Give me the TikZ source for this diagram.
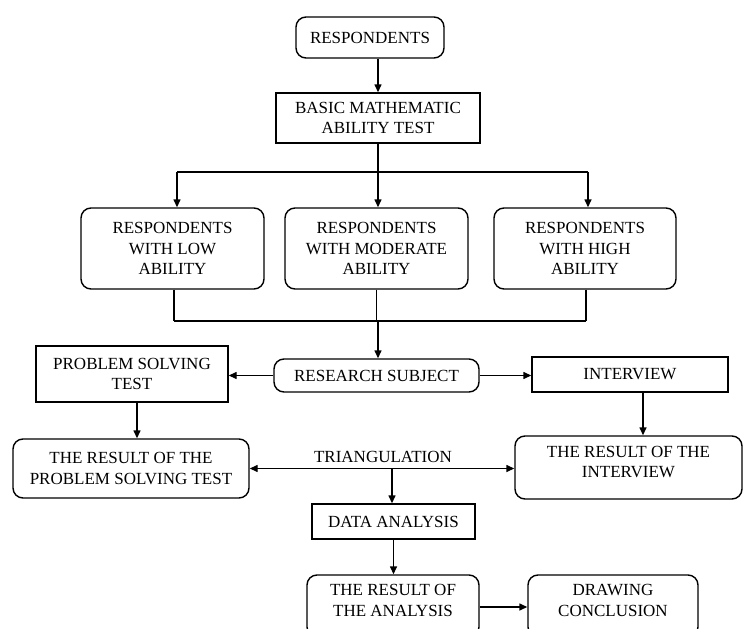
\documentclass[tikz,border=0pt]{standalone}
\usepackage{fontspec}
\setmainfont{Liberation Serif}
\usetikzlibrary{arrows.meta}
\newcommand{\lowstrut}{\rule[-11pt]{0pt}{1pt}}
\tikzset{
  every node/.style={font=\fontsize{17}{20.5}\selectfont, align=center, inner sep=0pt},
  sqbox/.style={draw, line width=1.4pt, rectangle},
  rbox/.style={draw, line width=1.4pt, rectangle, rounded corners=10pt},
  conn/.style={line width=1.4pt},
  arr/.style={conn, -{Triangle[length=8pt,width=7pt]}},
  darr/.style={conn, {Triangle[length=8pt,width=7pt]}-{Triangle[length=8pt,width=7pt]}}
}
\begin{document}
\begin{tikzpicture}[x=1pt,y=-1pt]
\useasboundingbox (0,0) rectangle (745,629);
\fill[white] (0,0) rectangle (745,629);

\node[rbox, minimum width=148pt, minimum height=41pt] (resp) at (370,37.5) {RESPONDENTS};
\node[sqbox, minimum width=204pt, minimum height=50pt] (basic) at (378,118) {BASIC MATHEMATIC\\ABILITY TEST};

\node[rbox, minimum width=183pt, minimum height=81pt] (low) at (172.5,248.5) {RESPONDENTS\\WITH LOW\\ABILITY};
\node[rbox, minimum width=183pt, minimum height=81pt] (mod) at (376.5,248.5) {RESPONDENTS\\WITH MODERATE\\ABILITY};
\node[rbox, minimum width=182pt, minimum height=81pt] (high) at (585,248.5) {RESPONDENTS\\WITH HIGH\\ABILITY};

\node[rbox, minimum width=205pt, minimum height=33pt] (rs) at (376.5,375.5) {RESEARCH SUBJECT};
\node[sqbox, minimum width=192pt, minimum height=56pt] (pst) at (132,374) {PROBLEM SOLVING\\TEST};
\node[sqbox, minimum width=196pt, minimum height=35pt] (int) at (630,374.5) {INTERVIEW};

\node[rbox, minimum width=236pt, minimum height=59pt] (rpst) at (131,468.5) {THE RESULT OF THE\\PROBLEM SOLVING TEST};
\node[rbox, minimum width=227pt, minimum height=63pt] (rint) at (628.5,467.5) {THE RESULT OF THE\\INTERVIEW\lowstrut};
\node (tri) at (383,457) {TRIANGULATION};

\node[sqbox, minimum width=163pt, minimum height=35pt] (da) at (393.5,521.5) {DATA ANALYSIS};
\node[rbox, minimum width=172pt, minimum height=62pt] (ra) at (393,606) {THE RESULT OF\\THE ANALYSIS\lowstrut};
\node[rbox, minimum width=170pt, minimum height=62pt] (dc) at (613,606) {DRAWING\\CONCLUSION\lowstrut};

% top
\draw[arr] (resp.south -| basic.north) -- (basic.north);
\coordinate (sL) at (177,172);
\coordinate (sR) at (588,172);
\draw[conn] (basic.south) -- (basic.south |- sL);
\draw[conn] (sL) -- (sR);
\draw[arr] (sL) -- (sL |- low.north);
\draw[arr] (basic.south |- sL) -- (basic.south |- mod.north);
\draw[arr] (sR) -- (sR |- high.north);

% merge
\coordinate (mL) at (174,321);
\coordinate (mR) at (586,321);
\draw[conn] (mL |- low.south) -- (mL);
\draw[conn] (mR |- high.south) -- (mR);
\draw[conn] (mL) -- (mR);
\draw[conn] (mod.south) -- (mod.south |- mL);
\draw[arr] (basic.south |- mL) -- (basic.south |- rs.north);

% research subject
\draw[arr] (rs.west) -- (rs.west -| pst.east);
\draw[arr] (rs.east) -- (rs.east -| int.west);
\draw[arr] ([xshift=5pt]pst.south) -- ([xshift=5pt]pst.south |- rpst.north);
\draw[arr] ([xshift=13pt]int.south) -- ([xshift=13pt]int.south |- rint.north);

% triangulation
\draw[darr] (rpst.east) -- (rpst.east -| rint.west);
\draw[arr] ([xshift=-1.5pt]da.north |- rpst.east) -- ([xshift=-1.5pt]da.north);
\draw[arr] (da.south) -- (da.south |- ra.north);
\draw[arr] ([yshift=-1pt]ra.east) -- ([yshift=-1pt]ra.east -| dc.west);
\end{tikzpicture}
\end{document}
